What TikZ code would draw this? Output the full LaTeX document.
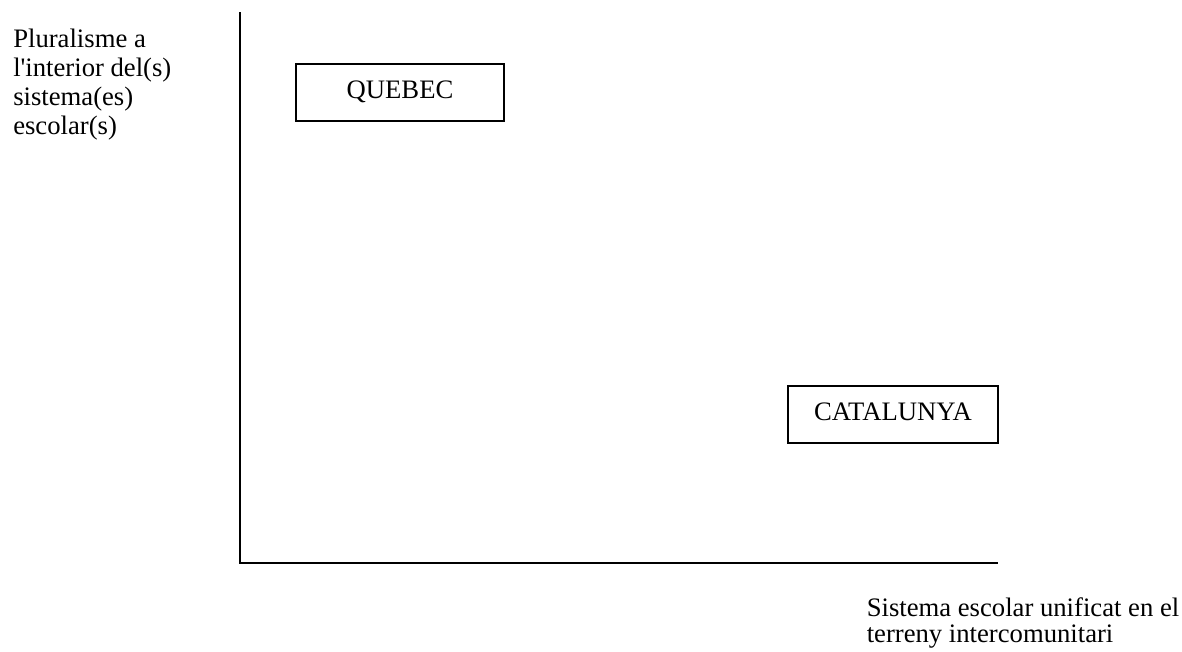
\documentclass[tikz,border=0pt]{standalone}
\usepackage{fontspec}
\setmainfont{Liberation Serif}
\begin{document}
\begin{tikzpicture}[x=0.75pt,y=-0.75pt,
  label text/.style={inner sep=0pt, align=left,
    font=\fontsize{20}{21.75}\selectfont},
  country/.style={draw, line width=1.2pt, rectangle, inner sep=0pt,
    text height=13.2pt, text depth=4pt,
    font=\fontsize{20}{24}\selectfont},
  axisline/.style={line width=1.5pt}]
  \useasboundingbox (0,0) rectangle (1182,651);

  % axes
  \coordinate (ytop) at (239.5,12);
  \coordinate (origin) at (239.5,562.5);
  \coordinate (xend) at (997.5,562.5);
  \draw[axisline] (ytop) -- (origin) -- (xend);

  % axis labels (anchored at the baseline of their last line)
  \node[label text, anchor=base west] (ylab) at (13,134.7)
    {Pluralisme a\\l\textquotesingle interior del(s)\\sistema(es)\\escolar(s)};
  \node[label text, anchor=base west, font=\fontsize{20}{19.5}\selectfont] (xlab) at (866.5,642)
    {Sistema escolar unificat en el\\terreny intercomunitari};

  % positioned cases
  \node[country, minimum width=156pt, minimum height=42.75pt] (quebec) at (400,92.5) {QUEBEC};
  \node[country, minimum width=157.5pt, minimum height=42.75pt] (catalunya) at (893,414.5) {CATALUNYA};
\end{tikzpicture}
\end{document}
